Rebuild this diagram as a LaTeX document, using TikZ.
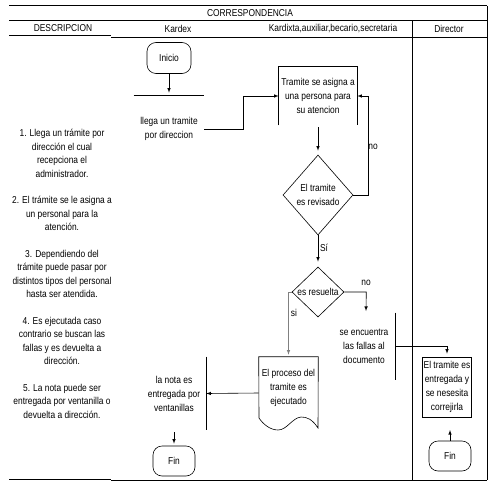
\documentclass[tikz,border=0pt]{standalone}
\usepackage{fontspec}
\setmainfont{Liberation Sans}[FakeStretch=0.84]
\usetikzlibrary{shapes.geometric}

\begin{document}
\begin{tikzpicture}[x=1pt, y=-1pt, >=latex, line width=.6pt]
\tikzstyle{every node} = [inner sep=0pt, align=center, font=\fontsize{10}{14}\selectfont]
\tikzstyle{terminal} = [draw, rounded corners=9pt, minimum width=42pt, minimum height=30pt]
\tikzstyle{rombo} = [draw, shape=diamond, inner sep=0pt]
\tikzstyle{marco} = [line width=1pt]
\tikzstyle{flecha} = [->, shorten >=3pt]
\useasboundingbox (0,0) rectangle (500,500);

\draw [marco] (9,6) -- (487,6);
\draw [marco] (9,21) -- (487,21);
\draw [marco] (9,36) -- (111,36);
\draw [marco] (111,38) -- (487,38);
\draw [marco] (9,479) -- (111,479);
\draw [marco] (111,480) -- (487,480);
\draw [marco] (412,21) -- (412,480);
\draw [marco] (487,6) -- (487,480);

\node (t) at (250,13) {CORRESPONDENCIA};
\node (h1) at (63,28) {DESCRIPCION};
\node (h2) at (178,29) {Kardex};
\node (h3) at (333,29) {Kardixta,auxiliar,becario,secretaria};
\node (h4) at (449,29) {Director};

\node [font=\fontsize{10}{13.4}\selectfont] (desc) at (62,274) {1. Llega un trámite por\\dirección el cual\\recepciona el\\administrador.\\[13.4pt]
2. El trámite se le asigna a\\un personal para la\\atención.\\[13.4pt]
3. Dependiendo del\\trámite puede pasar por\\distintos tipos del personal\\hasta ser atendida.\\[13.4pt]
4. Es ejecutada caso\\contrario se buscan las\\fallas y es devuelta a\\dirección.\\[13.4pt]
5. La nota puede ser\\entregada por ventanilla o\\devuelta a dirección.};

\node [terminal, minimum width=44pt, minimum height=31pt] (a) at (169,58) {Inicio};
\node [minimum width=70pt, minimum height=66pt] (b) at (169,129) {llega un tramite\\por direccion};
\node [minimum width=78pt, minimum height=58pt] (c) at (318,96) {Tramite se asigna a\\una persona para\\su atencion};
\node [rombo, minimum width=70pt, minimum height=80pt] (d) at (318,195) {El tramite\\es revisado};
\node [rombo, minimum width=52pt, minimum height=50pt] (e) at (318,292) {es resuelta};
\node [minimum width=59pt, minimum height=62pt] (f) at (288.5,388) {El proceso del\\tramite es\\ejecutado};
\node [minimum width=62pt, minimum height=67pt] (g) at (364,346.5) {se encuentra\\las fallas al\\documento};
\node [draw, inner sep=1pt, minimum width=48pt, minimum height=60pt] (h) at (447,387) {El tramite es\\entregada y\\se nesesita\\correjirla};
\node [terminal] (i) at (450,456) {Fin};
\node [minimum width=64pt, minimum height=73pt] (k) at (174,393.5) {la nota es\\entregada por\\ventanillas};
\node [terminal] (j) at (174,461) {Fin};

\node (n1) at (373,147) {no};
\node (s1) at (324,248) {Sí};
\node (s2) at (294,313) {si};
\node (n2) at (366,283) {no};

\coordinate (c1) at (366,311);
\coordinate (c2) at (450,430);
\coordinate (c3) at (174,432);

\draw (b.north west) -- (b.north east);
\draw (c.south west) -- (c.north west) -- (c.north east) -- (c.south east);
\draw (f.north west) -- (f.north east) -- (318,428) .. controls (312,419) and (307,417) .. (301,417) .. controls (292,418) and (287,430) .. (278,430) .. controls (270,430) and (263,424) .. (259,418) -- cycle;
\draw (g.north east) -- (g.south east);
\draw (k.north east) -- (k.south east);

\draw [flecha] (a.south) -- (b.north);
\draw [->] (b.east) -- ++(39,0) |- (c.west);
\draw [flecha, shorten >=4pt] ([yshift=-2pt]c.south) -- (d.north);
\draw [->] (d.east) -- ++(15,0) |- (c.east);
\draw [flecha, shorten >=5pt] (d.south) -- (e.north);
\draw [flecha, gray, shorten >=2pt] (e.west) -| (f.north);
\draw [->] (e.east) -- ++(22,0) -- (c1);
\draw [flecha] (g.east) -| (h.north);
\draw [->] ([yshift=-5pt]f.west) -- (k.east);
\draw [flecha, shorten >=2pt] (c3) -- (j.north);
\draw [->] (i.north) -- (c2);
\end{tikzpicture}
\end{document}
